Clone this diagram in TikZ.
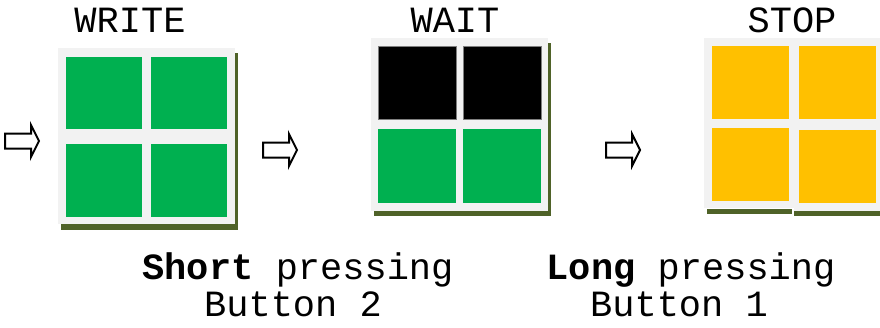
\documentclass[tikz,border=0pt]{standalone}
\usepackage{fontspec}
\setmonofont{Liberation Mono}
\definecolor{panelgray}{HTML}{F2F2F2}
\definecolor{shadowgreen}{HTML}{4F6228}
\definecolor{tgreen}{HTML}{00B050}
\definecolor{tyellow}{HTML}{FFC000}
\definecolor{tborder}{HTML}{7F7F7F}
\begin{document}
\begin{tikzpicture}[x=1pt,y=-1pt,
  panel/.style={fill=panelgray},
  shadow/.style={fill=shadowgreen},
  greentile/.style={fill=tgreen},
  yellowtile/.style={fill=tyellow},
  blacktile/.style={fill=black,draw=tborder,line width=0.8pt},
  label/.style={anchor=base,inner sep=0pt,font=\ttfamily\fontsize{37}{37}\selectfont},
  barrow/.pic={\draw[line width=2pt,line join=miter,fill=white]
     (0,-7.5) -- (26,-7.5) -- (26,-16) -- (34,0) -- (26,16) -- (26,7.5) -- (0,7.5) -- cycle;}]
\useasboundingbox (0,0) rectangle (880,327);

% arrows
\pic at (5,141) {barrow};
\pic at (263,150) {barrow};
\pic at (606,150) {barrow};

% WRITE panel
\fill[shadow] (61,53) rectangle (238,230);
\fill[panel] (58,48) rectangle (235,224);
\fill[greentile] (66,57) rectangle (142,129);
\fill[greentile] (151,57) rectangle (227,129);
\fill[greentile] (66,144) rectangle (142,217);
\fill[greentile] (151,144) rectangle (227,217);

% WAIT panel
\fill[shadow] (374,43) rectangle (551,216);
\fill[panel] (371,38) rectangle (548,211);
\filldraw[blacktile] (378,46) rectangle (456,119);
\filldraw[blacktile] (463,46) rectangle (541,119);
\fill[greentile] (378,129) rectangle (456,203);
\fill[greentile] (463,129) rectangle (541,203);

% STOP panel
\fill[shadow] (707,209) rectangle (792,214);
\fill[shadow] (794,211) rectangle (880,216);
\fill[panel] (704,38) rectangle (794,208);
\fill[panel] (794,38) rectangle (880,211);
\fill[yellowtile] (712,46) rectangle (789,119);
\fill[yellowtile] (799,46) rectangle (876,119);
\fill[yellowtile] (712,128) rectangle (789,201);
\fill[yellowtile] (799,130) rectangle (876,203);

% titles
\node[label] (twrite) at (130,32) {WRITE};
\node[label] (twait) at (455,32) {WAIT};
\node[label] (tstop) at (792,32) {STOP};

% captions
\node[label] (short) at (298,279) {\textbf{Short} pressing};
\node[label] (btn2) at (293,316) {Button 2};
\node[label] (long) at (691,279) {\textbf{Long} pressing};
\node[label] (btn1) at (679,316) {Button 1};
\end{tikzpicture}
\end{document}
